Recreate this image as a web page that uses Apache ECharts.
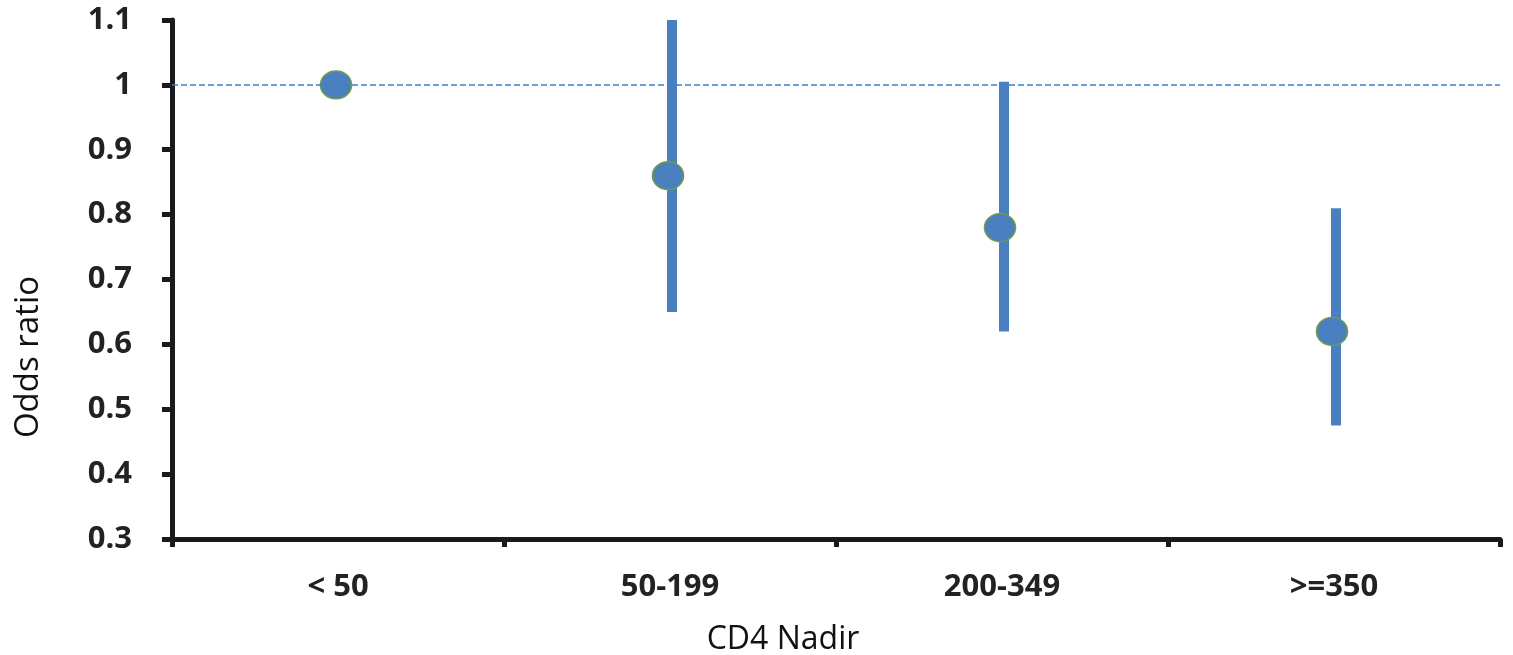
<!DOCTYPE html>
<html>
<head>
<meta charset="utf-8">
<script src="https://cdn.jsdelivr.net/npm/echarts@6/dist/echarts.min.js"></script>
<style>html,body{margin:0;padding:0;background:#fff;}#chart{width:1513px;height:655px;}</style>
</head>
<body>
<div id="chart"></div>
<script>
const categories = ['< 50', '50-199', '200-349', '>=350'];
const oddsRatio = [1.0, 0.86, 0.78, 0.62];
const ciLow = [null, 0.65, 0.62, 0.475];
const ciHigh = [null, 1.1, 1.005, 0.81];
const yTicks = [0.3, 0.4, 0.5, 0.6, 0.7, 0.8, 0.9, 1.0, 1.1];
const referenceValue = 1;

const chart = echarts.init(document.getElementById('chart'));
const blue = '#4a80c0';
const axisColor = '#1a1a1a';
const errData = categories.map((c, i) => [i, ciLow[i], ciHigh[i]]).filter(d => d[1] !== null);

chart.setOption({
  animation: false,
  backgroundColor: '#fff',
  grid: { left: 172, right: 13, top: 20, bottom: 116, containLabel: false },
  xAxis: {
    type: 'category',
    data: categories,
    boundaryGap: true,
    axisLine: { lineStyle: { color: axisColor, width: 5 } },
    axisTick: { show: true, length: 8, lineStyle: { color: axisColor, width: 5 } },
    axisLabel: { margin: 33, fontFamily: 'Open Sans', fontWeight: 'bold', fontSize: 31, color: '#222', letterSpacing: 2 },
    splitLine: { show: false }
  },
  yAxis: {
    type: 'value',
    min: yTicks[0],
    max: yTicks[yTicks.length - 1],
    interval: 0.1,
    axisLine: { show: true, lineStyle: { color: axisColor, width: 5 } },
    axisTick: { show: true, length: 10, lineStyle: { color: axisColor, width: 5 } },
    axisLabel: {
      margin: 40, fontFamily: 'Open Sans', fontWeight: 'bold', fontSize: 31, color: '#222', letterSpacing: 1,
      formatter: v => String(yTicks.reduce((a, b) => Math.abs(b - v) < Math.abs(a - v) ? b : a))
    },
    splitLine: { show: false }
  },
  graphic: [
    { type: 'text', x: 783, y: 640, style: { text: 'CD4 Nadir', font: '32px "Open Sans"', fill: '#111', align: 'center', verticalAlign: 'middle' } },
    { type: 'text', x: 29, y: 357, rotation: Math.PI / 2, style: { text: 'Odds ratio', font: '33px "Open Sans"', fill: '#111', align: 'center', verticalAlign: 'middle' } }
  ],
  series: [
    {
      type: 'custom',
      data: errData,
      encode: { x: 0, y: [1, 2] },
      z: 2,
      renderItem: (params, api) => {
        const lo = api.coord([api.value(0), api.value(1)]);
        const hi = api.coord([api.value(0), api.value(2)]);
        const w = 10;
        return { type: 'rect', shape: { x: lo[0] - w / 2 + 2, y: hi[1], width: w, height: lo[1] - hi[1] }, style: { fill: blue } };
      }
    },
    {
      type: 'scatter',
      data: oddsRatio,
      symbol: 'circle',
      symbolSize: [31, 28],
      symbolOffset: [-2, 0],
      z: 3,
      itemStyle: { color: blue, borderColor: '#6f9c45', borderWidth: 1.5, opacity: 1 },
      markLine: {
        silent: true,
        symbol: 'none',
        label: { show: false },
        lineStyle: { color: '#3f7fc4', type: [6, 3], width: 1.5, opacity: 1 },
        emphasis: { disabled: true },
        data: [{ yAxis: referenceValue }]
      }
    }
  ]
});
</script>
</body>
</html>
